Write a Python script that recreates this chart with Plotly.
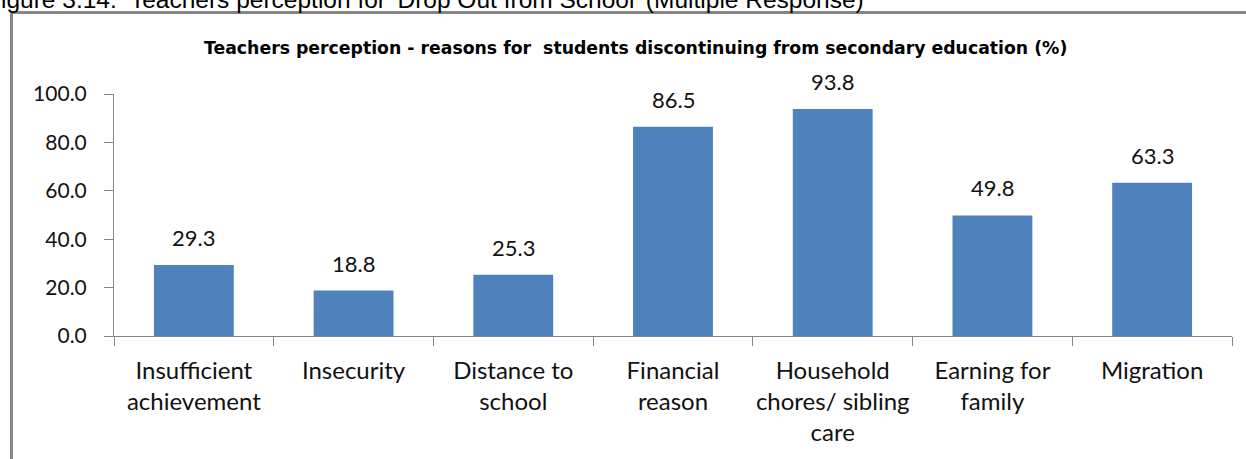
import plotly.graph_objects as go

categories = [
    "Insufficient<br>achievement",
    "Insecurity",
    "Distance to<br>school",
    "Financial<br>reason",
    "Household<br>chores/ sibling<br>care",
    "Earning for<br>family",
    "Migration",
]
values = [29.3, 18.8, 25.3, 86.5, 93.8, 49.8, 63.3]
y_ticks = [0, 20, 40, 60, 80, 100]

W, H = 1246, 459
L, R, T, B = 114, 14, 94, 123
pw, ph = W - L - R, H - T - B


def px_x(x):
    return (x - L) / pw


def px_y(y):
    return (H - B - y) / ph


FONT = "Lato, 'Open Sans', sans-serif"
GRAY = "#868686"

fig = go.Figure(
    go.Bar(
        x=categories,
        y=values,
        marker=dict(color="#4F81BD", line=dict(width=0)),
        width=0.5,
        hoverinfo="x+y",
    )
)

# value labels above each bar
for c, v in zip(categories, values):
    fig.add_annotation(
        x=c, y=v, text=f"{v:.1f}", showarrow=False,
        yanchor="bottom", yshift=12,
        font=dict(family=FONT, size=22, color="#111"),
    )

# chart title
fig.add_annotation(
    xref="paper", yref="paper", x=px_x(635), y=px_y(48),
    text="<b>Teachers perception - reasons for  students discontinuing from secondary education (%)</b>",
    showarrow=False, xanchor="center", yanchor="middle",
    font=dict(family="'DejaVu Sans', sans-serif", size=17.3, color="#000"),
)

# figure caption above the frame (partly cut off at the top edge)
fig.add_annotation(
    xref="paper", yref="paper", x=px_x(-1), y=px_y(-16),
    text="igure 3.14:  Teachers perception for 'Drop Out from School' (Multiple Response)",
    showarrow=False, xanchor="left", yanchor="top",
    font=dict(family="'Liberation Sans', Arial, sans-serif", size=24.5, color="#000"),
)

# outer frame of the chart (top and left edges)
fig.add_shape(type="line", xref="paper", yref="paper",
              x0=px_x(11.5), x1=px_x(W + 5), y0=px_y(12.5), y1=px_y(12.5),
              line=dict(color=GRAY, width=3))
fig.add_shape(type="line", xref="paper", yref="paper",
              x0=px_x(11.5), x1=px_x(11.5), y0=px_y(12.5), y1=px_y(H + 5),
              line=dict(color=GRAY, width=3))

fig.update_layout(
    width=W, height=H,
    margin=dict(l=L, r=R, t=T, b=B, pad=0, autoexpand=False),
    paper_bgcolor="white", plot_bgcolor="white",
    showlegend=False,
    bargap=0.5,
    font=dict(family=FONT, color="#111"),
)
fig.update_xaxes(
    type="category", automargin=False, tickangle=0,
    showline=True, linecolor=GRAY, linewidth=1,
    ticks="outside", tickson="boundaries", ticklen=9, tickcolor=GRAY,
    ticklabelstandoff=13,
    tickfont=dict(family=FONT, size=24, color="#111"),
    showgrid=False, zeroline=False,
)
fig.update_yaxes(
    range=[0, 100], automargin=False,
    tickvals=y_ticks, ticktext=[f"{t:.1f}" for t in y_ticks],
    showline=True, linecolor=GRAY, linewidth=1,
    ticks="outside", ticklen=9, tickcolor=GRAY,
    ticklabelstandoff=13,
    tickfont=dict(family=FONT, size=21, color="#111"),
    showgrid=False, zeroline=False,
)

fig.write_html("out.html")
